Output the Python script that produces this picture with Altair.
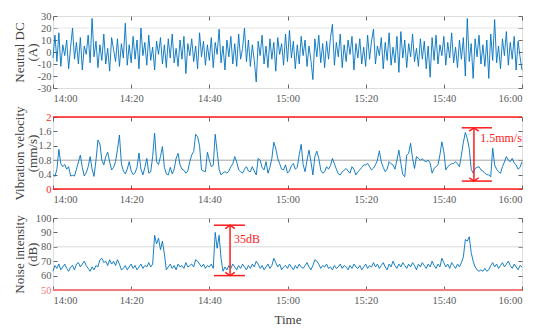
import altair as alt
import pandas as pd

neutral_dc = [
    -5, 14, -8, 16, -12, 6, -3, 10, -14, 4, 20, -6, 8, -10, 12, -15, 5, -2, 14, -9,
    28, -4, 9, -13, 6, -7, 15, -10, 3, -16, 12, 2, -8, 11, -12, 7, -5, 24, -11, 6,
    -9, 13, -6, 10, -14, 20, -3, 8, -11, 14, -7, 4, -15, 9, -2, 12, -10, 6, -13, 11,
    -5, 15, -9, 3, -12, 10, -6, 13, -18, 7, -3, 11, -8, 5, -14, 16, -4, 9, -11, 6,
    -7, 12, -13, 8, -2, 19, -9, 5, -15, 10, -4, 13, -10, 7, -12, 15, -6, 3, 20, -8,
    10, -12, 6, -7, -25, 9, -3, 14, -10, 5, -13, 11, -6, 8, -16, 12, -2, 7, -11, 15,
    -8, 18, -5, 9, -14, 6, -10, 13, -3, 10, -12, 5, -7, -23, 11, -4, 14, -9, 7, -13,
    9, -6, 12, 23, -11, 8, -4, 15, -13, 6, -8, 10, -2, 13, -15, 7, -5, 11, -10, 4,
    -12, 14, -6, 9, 19, -10, 5, -3, 12, -14, 8, -7, 16, -11, 4, -9, 13, -17, 17, -5,
    10, -13, 7, -4, 15, -8, 3, -12, 11, -6, 9, -14, 5, -21, 12, -7, 14, -10, 6, -3,
    13, -11, 8, -5, 16, -9, 4, -13, 10, -6, 12, -20, 28, -8, 7, -22, 11, -4, 14, -10,
    6, -12, 10, -22, 15, -7, 27, -9, 5, -14, 11, -3, 17, -11, 8, -6, 13, -15, 9, -4,
    -15,
]

vibration = [
    0.40, 0.35, 0.55, 1.10, 0.70, 0.62, 0.68, 0.55, 0.62, 0.36, 0.38, 0.36, 0.55, 0.75, 0.94, 0.60, 0.36, 0.45, 0.62, 0.90,
    0.55, 0.35, 0.80, 1.36, 1.25, 0.80, 0.67, 0.90, 1.02, 0.75, 0.53, 0.60, 0.76, 1.10, 1.50, 0.70, 0.50, 0.42, 0.55, 0.76,
    0.50, 0.40, 0.45, 0.60, 1.00, 0.55, 0.39, 0.60, 0.85, 0.44, 0.48, 0.90, 1.55, 0.76, 0.68, 0.90, 1.18, 0.60, 0.42, 0.39,
    0.60, 0.42, 0.55, 0.85, 0.99, 0.67, 0.55, 0.52, 0.44, 0.50, 0.76, 0.95, 1.04, 1.52, 1.45, 1.20, 0.53, 0.50, 0.48, 1.02,
    0.80, 0.62, 0.66, 1.52, 1.04, 0.55, 0.39, 0.45, 0.48, 0.44, 0.50, 0.62, 0.70, 0.90, 0.75, 0.53, 0.48, 0.44, 0.55, 0.62,
    0.50, 0.48, 0.62, 0.50, 0.39, 0.85, 0.80, 0.60, 0.53, 0.76, 0.44, 0.60, 0.85, 1.30, 1.13, 0.85, 0.70, 0.55, 0.53, 0.67,
    0.44, 0.50, 0.65, 0.71, 0.55, 0.60, 0.95, 1.24, 0.67, 0.48, 0.80, 1.08, 0.76, 0.39, 0.90, 1.05, 0.85, 0.53, 0.44, 0.48,
    0.62, 0.55, 0.65, 0.85, 0.70, 0.55, 0.42, 0.39, 0.48, 0.52, 0.57, 0.50, 0.44, 0.62, 0.55, 0.39, 0.48, 0.53, 0.60, 0.67,
    0.67, 0.71, 0.62, 0.53, 0.58, 0.67, 0.80, 1.06, 0.75, 0.60, 0.48, 0.55, 0.76, 0.70, 0.67, 0.55, 0.80, 1.08, 0.72, 0.40,
    0.34, 0.94, 0.99, 1.27, 0.85, 0.57, 0.90, 0.85, 0.80, 0.84, 0.78, 0.76, 0.80, 0.72, 0.44, 0.57, 0.62, 0.67, 0.95, 1.31,
    1.04, 0.53, 0.62, 0.67, 0.70, 0.71, 0.76, 0.70, 0.62, 0.94, 1.30, 1.57, 1.40, 1.13, 0.55, 0.44, 0.57, 0.60, 0.62, 0.53,
    0.50, 0.44, 0.40, 0.39, 0.34, 1.13, 0.67, 0.55, 0.48, 0.44, 0.62, 0.75, 0.90, 0.80, 0.76, 0.85, 0.72, 0.67, 0.55, 0.60,
    0.76,
]

noise = [
    63, 67, 65, 68, 64, 66, 68, 65, 63, 66, 67, 64, 68, 69, 66, 68, 70, 67, 65, 63,
    66, 64, 67, 66, 71, 72, 69, 70, 67, 71, 68, 70, 67, 71, 68, 64, 65, 67, 64, 66,
    68, 65, 67, 64, 66, 68, 65, 67, 66, 69, 66, 68, 88, 82, 86, 78, 84, 75, 64, 66,
    68, 65, 67, 64, 68, 66, 67, 65, 69, 66, 67, 68, 66, 71, 70, 68, 66, 68, 65, 67,
    66, 68, 65, 90, 79, 88, 72, 63, 66, 64, 67, 65, 68, 66, 64, 67, 65, 68, 66, 64,
    67, 65, 68, 66, 70, 68, 65, 67, 64, 66, 68, 65, 67, 72, 69, 66, 68, 64, 66, 67,
    65, 68, 66, 64, 67, 65, 68, 66, 65, 67, 69, 66, 64, 67, 71, 70, 68, 65, 67, 66,
    68, 65, 66, 64, 67, 65, 66, 68, 65, 67, 66, 64, 67, 65, 68, 66, 65, 67, 64, 66,
    68, 65, 67, 66, 69, 66, 68, 65, 67, 69, 66, 64, 68, 66, 70, 67, 65, 68, 66, 69,
    67, 65, 68, 66, 69, 67, 64, 68, 66, 69, 67, 65, 68, 66, 70, 67, 65, 68, 66, 72,
    69, 66, 68, 65, 69, 67, 65, 68, 66, 69, 73, 85, 84, 87, 76, 70, 66, 64, 63, 64,
    63, 65, 63, 64, 67, 69, 66, 68, 65, 67, 69, 66, 68, 70, 67, 65, 68, 66, 64, 67,
    66,
]

sample_step_min = 0.5
minutes = [i * sample_step_min for i in range(len(neutral_dc))]

x_tick_values = [0, 20, 40, 60, 80, 100, 120]
x_tick_labels = ["14:00", "14:20", "14:40", "15:00", "15:20", "15:40", "16:00"]

dc_ticks = [-30, -20, -10, 0, 10, 20, 30]
vib_ticks = [0, 0.4, 0.8, 1.2, 1.6, 2]
noise_ticks = [50, 60, 70, 80, 90, 100]

# annotations
vib_bracket_x = [104.6, 112.3]
vib_bracket_y = [0.22, 1.70]
vib_arrow_x = 107.7
vib_label = "1.5mm/s"
vib_label_xy = [109.3, 1.42]

noise_bracket_x = [41.2, 49.1]
noise_bracket_y = [60, 95]
noise_arrow_x = 45.3
noise_label = "35dB"
noise_label_xy = [46.3, 85.4]

# ---------------- styling ----------------
FONT = "Liberation Serif"
BLUE = "#0072BD"
RED = "#ff1a1a"
SALMON = "#f27b7b"
GRAY_TXT = "#595959"
TITLE_TXT = "#404040"
W, H = 469, 72

label_expr = "[" + ",".join("'%s'" % s for s in x_tick_labels) + "][round(datum.value/20)]"


def panel(values, ydom, yticks, ytitle, red_labels, refs, reds, annot, last):
    df = pd.DataFrame({"t": minutes, "v": values})
    xs = alt.Scale(domain=[0, 120], nice=False, zero=False)
    ys = alt.Scale(domain=ydom, nice=False, zero=False)

    if red_labels:
        test = " || ".join("datum.value == %s" % v for v, _ in red_labels)
        lcolor = {"condition": {"test": test, "value": red_labels[0][1]}, "value": GRAY_TXT}
    else:
        lcolor = GRAY_TXT

    xb_kwargs = dict(
        values=x_tick_values, labelExpr=label_expr, orient="bottom", offset=-4,
        tickSize=4, tickColor="#666", domain=False, grid=False,
        labelFont=FONT, labelFontSize=10.5, labelColor=GRAY_TXT, labelPadding=5,
    )
    if last:
        xb = alt.Axis(title="Time", titleFont=FONT, titleFontSize=13,
                      titleFontWeight="normal", titleColor=TITLE_TXT,
                      titlePadding=8, **xb_kwargs)
    else:
        xb = alt.Axis(title=None, **xb_kwargs)

    yl = alt.Axis(
        values=yticks, labelExpr="'' + datum.value", orient="left", offset=-4,
        tickSize=4, tickColor="#666", domain=False, grid=False,
        labelFont=FONT, labelFontSize=10.5, labelColor=lcolor, labelPadding=2,
        title=ytitle, titleFont=FONT, titleFontSize=13, titleFontWeight="normal",
        titleColor=TITLE_TXT, titleLineHeight=13.5, titleX=-31, titleY=H / 2,
        titleAngle=-90, titleBaseline="bottom", titleAlign="center",
    )
    xt = alt.Axis(values=x_tick_values, orient="top", offset=-4, tickSize=4,
                  tickColor="#666", labels=False, domain=False, grid=False, title=None)
    yr = alt.Axis(values=yticks, orient="right", offset=-4, tickSize=4,
                  tickColor="#666", labels=False, domain=False, grid=False, title=None)

    layers = []
    for val, col in refs:
        layers.append(
            alt.Chart(pd.DataFrame({"y": [val]})).mark_rule(color=col, strokeWidth=1)
            .encode(y=alt.Y("y:Q", scale=ys, axis=None))
        )
    line = alt.Chart(df).mark_line(color=BLUE, strokeWidth=0.9).encode(
        x=alt.X("t:Q", scale=xs, axis=xb),
        y=alt.Y("v:Q", scale=ys, axis=yl),
    )
    layers.append(line)
    ghost = alt.Chart(df).mark_line(opacity=0).encode(
        x=alt.X("t:Q", scale=xs, axis=xt),
        y=alt.Y("v:Q", scale=ys, axis=yr),
    )
    layers.append(ghost)
    for val, col, sw in reds:
        layers.append(
            alt.Chart(pd.DataFrame({"y": [val]})).mark_rule(color=col, strokeWidth=sw)
            .encode(y=alt.Y("y:Q", scale=ys, axis=None))
        )
    if annot:
        bx, by, ax, lab, lxy = annot
        hb = pd.DataFrame({"x": [bx[0], bx[0]], "x2": [bx[1], bx[1]], "y": by})
        layers.append(
            alt.Chart(hb).mark_rule(color=RED, strokeWidth=1.5).encode(
                x=alt.X("x:Q", scale=xs, axis=None), x2="x2:Q",
                y=alt.Y("y:Q", scale=ys, axis=None))
        )
        vb = pd.DataFrame({"x": [ax], "y": [by[0]], "y2": [by[1]]})
        layers.append(
            alt.Chart(vb).mark_rule(color=RED, strokeWidth=1.5).encode(
                x=alt.X("x:Q", scale=xs, axis=None),
                y=alt.Y("y:Q", scale=ys, axis=None), y2="y2:Q")
        )
        up = pd.DataFrame({"x": [ax], "y": [by[1]]})
        dn = pd.DataFrame({"x": [ax], "y": [by[0]]})
        layers.append(
            alt.Chart(up).mark_point(shape="M-1,0.7L0,0L1,0.7", filled=False,
                                     color=RED, size=90, strokeWidth=1.5, opacity=1)
            .encode(x=alt.X("x:Q", scale=xs, axis=None), y=alt.Y("y:Q", scale=ys, axis=None))
        )
        layers.append(
            alt.Chart(dn).mark_point(shape="M-1,-0.7L0,0L1,-0.7", filled=False,
                                     color=RED, size=90, strokeWidth=1.5, opacity=1)
            .encode(x=alt.X("x:Q", scale=xs, axis=None), y=alt.Y("y:Q", scale=ys, axis=None))
        )
        tx = pd.DataFrame({"x": [lxy[0]], "y": [lxy[1]], "s": [lab]})
        layers.append(
            alt.Chart(tx).mark_text(color=RED, font=FONT, fontSize=12, align="left",
                                    baseline="middle")
            .encode(x=alt.X("x:Q", scale=xs, axis=None), y=alt.Y("y:Q", scale=ys, axis=None),
                    text="s:N")
        )
    return alt.layer(*layers).resolve_axis(x="independent", y="independent").properties(
        width=W, height=H)


p1 = panel(neutral_dc, [-30, 30], dc_ticks, ["Neutral DC", "(A)"], [],
           [(20, "#e6e6e6")], [], None, False)
p2 = panel(vibration, [0, 2], vib_ticks, ["Vibration velocity", "(mm/s)"],
           [(0, RED), (2, RED)],
           [(0.8, "#a6a6a6")], [(0, RED, 1.5), (2, RED, 1.5)],
           (vib_bracket_x, vib_bracket_y, vib_arrow_x, vib_label, vib_label_xy), False)
p3 = panel(noise, [50, 100], noise_ticks, ["Noise intensity", "(dB)"], [(50, SALMON)],
           [(80, "#d9d9d9")], [(50, SALMON, 2)],
           (noise_bracket_x, noise_bracket_y, noise_arrow_x, noise_label, noise_label_xy), True)

chart = alt.vconcat(p1, p2, p3, spacing=29, bounds="flush").properties(
    padding={"left": 4, "top": 2, "right": 5, "bottom": 2}
).configure_view(stroke="#808080", strokeWidth=1).configure(background="white")

chart.save("out.html", embed_options={"renderer": "svg", "actions": False})
